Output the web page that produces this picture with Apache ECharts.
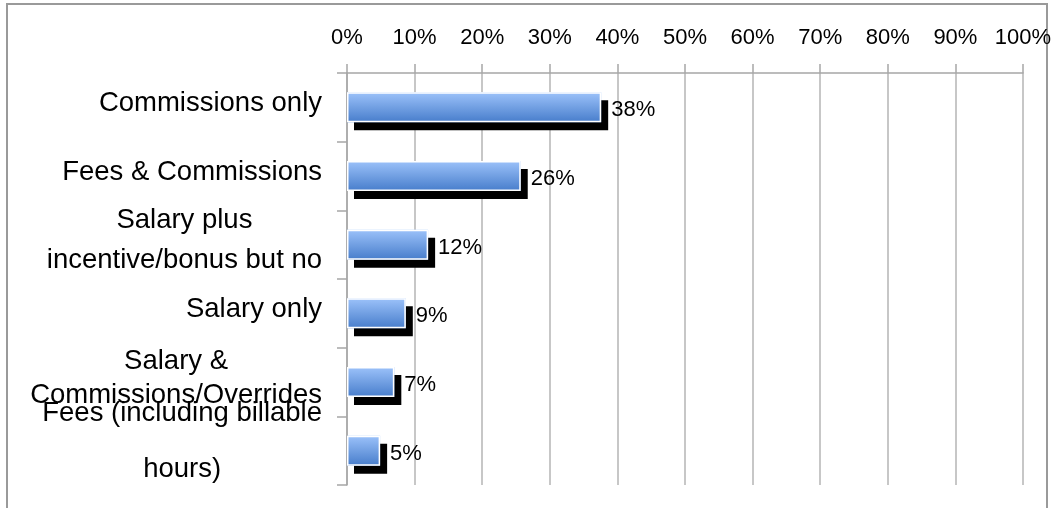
<!DOCTYPE html>
<html>
<head>
<meta charset="utf-8">
<script src="https://cdn.jsdelivr.net/npm/echarts@6/dist/echarts.min.js"></script>
<style>
html,body{margin:0;padding:0;background:#fff;}
#main{width:1055px;height:508px;}
</style>
</head>
<body>
<div id="main"></div>
<script>
var categories = [
  'Commissions only',
  'Fees & Commissions',
  'Salary plus incentive/bonus but no',
  'Salary only',
  'Salary & Commissions/Overrides',
  'Fees (including billable hours)'
];
var shares = [0.376, 0.257, 0.12, 0.087, 0.07, 0.049];
var tickLabels = ['0%','10%','20%','30%','40%','50%','60%','70%','80%','90%','100%'];

var labelRich = {
  'Commissions only': '{c|Commissions only}',
  'Fees & Commissions': '{c|Fees & Commissions}',
  'Salary plus incentive/bonus but no': '{a|Salary plus}\n{a|incentive/bonus but no}',
  'Salary only': '{c|Salary only}',
  'Salary & Commissions/Overrides': '{b|Salary &}\n{b|Commissions/Overrides}',
  'Fees (including billable hours)': '{f|Fees (including billable}\n{f|hours)}\n{g| }'
};

var chart = echarts.init(document.getElementById('main'), null, {renderer: 'canvas'});
var labelFont = {fontFamily: 'Liberation Sans', fontSize: 27.5, color: '#000'};
chart.setOption({
  animation: false,
  backgroundColor: '#fff',
  graphic: [{
    type: 'rect', shape: {x: 7, y: 4, width: 1040, height: 530},
    style: {fill: 'none', stroke: '#9a9a9a', lineWidth: 2}, silent: true, z: -1
  }],
  grid: {left: 347, right: 32, top: 73, bottom: 23, containLabel: false},
  xAxis: {
    type: 'value', position: 'top', min: 0, max: 1, interval: 0.1,
    axisLine: {show: true, lineStyle: {color: '#a6a6a6', width: 1.5}},
    axisTick: {show: true, length: 9, inside: false, lineStyle: {color: '#a6a6a6', width: 1.5}},
    splitLine: {show: true, lineStyle: {color: '#b4b4b4', width: 1.5}},
    axisLabel: {
      margin: 24, fontFamily: 'Liberation Sans', fontSize: 22, color: '#000',
      formatter: function (v) { return tickLabels[Math.round(v * 10)]; }
    }
  },
  yAxis: {
    type: 'category', inverse: true, data: categories,
    axisLine: {show: true, lineStyle: {color: '#a6a6a6', width: 1.5}},
    axisTick: {show: true, length: 10, alignWithLabel: false, lineStyle: {color: '#a6a6a6', width: 1.5}},
    axisLabel: {
      interval: 0, hideOverlap: false,
      margin: 25, padding: [0, 0, 8, 0],
      formatter: function (v) { return labelRich[v]; },
      rich: {
        c: Object.assign({}, labelFont, {lineHeight: 32}),
        a: Object.assign({}, labelFont, {lineHeight: 40, align: 'center'}),
        b: Object.assign({}, labelFont, {lineHeight: 34, align: 'center'}),
        f: Object.assign({}, labelFont, {lineHeight: 56, align: 'center'}),
        g: {fontSize: 2, lineHeight: 10}
      }
    }
  },
  series: [{
    type: 'bar', data: shares, barWidth: 30, z: 2,
    itemStyle: {
      color: new echarts.graphic.LinearGradient(0, 0, 0, 1, [
        {offset: 0, color: '#9cc2fa'},
        {offset: 1, color: '#477dcb'}
      ]),
      borderWidth: 0,
      shadowColor: '#000', shadowBlur: 0, shadowOffsetX: 7, shadowOffsetY: 8
    },
    label: {
      show: true, position: 'right', distance: 10, offset: [0, 3],
      fontFamily: 'Liberation Sans', fontSize: 22, color: '#000',
      formatter: function (p) { return Math.round(p.value * 100) + '%'; }
    }
  }, {
    type: 'bar', data: shares, barWidth: 30, barGap: '-100%', z: 3,
    itemStyle: {color: 'rgba(0,0,0,0)', borderColor: '#ffffff', borderWidth: 1.5},
    label: {show: false}
  }]
});
</script>
</body>
</html>
